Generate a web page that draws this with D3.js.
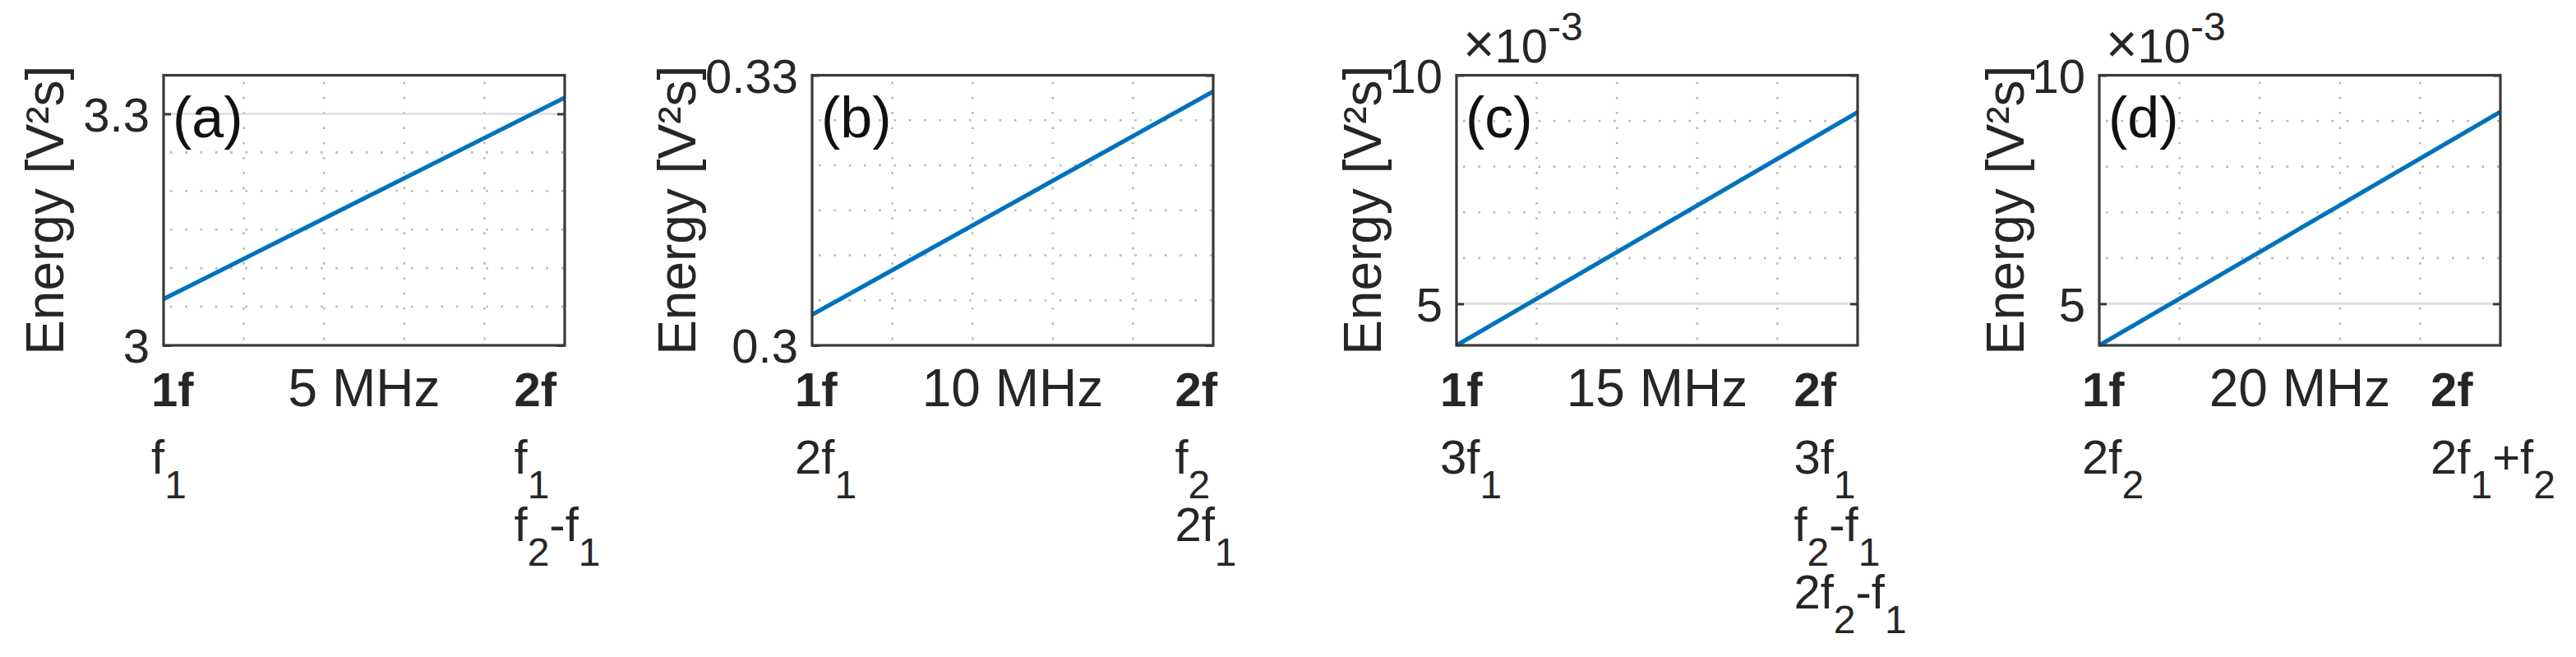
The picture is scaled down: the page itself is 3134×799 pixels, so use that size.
<!DOCTYPE html>
<html>
<head>
<meta charset="utf-8">
<script src="https://cdn.jsdelivr.net/npm/d3@7"></script>
<style>
  html, body { margin: 0; padding: 0; background: #fff; }
  svg { display: block; }
  text { font-family: "Liberation Sans", Arial, Helvetica, sans-serif; }
</style>
</head>
<body>
<svg id="chart" width="3134" height="799"></svg>
<script>
// ---------------- data ----------------
const panelLetters = ["(a)", "(b)", "(c)", "(d)"];
const bandLabels = ["5 MHz", "10 MHz", "15 MHz", "20 MHz"];
const xTickValues = [1, 2];
const xTickHeads = ["1f", "2f"];
const leftTerms = [["f_1"], ["2f_1"], ["3f_1"], ["2f_2"]];
const rightTerms = [["f_1", "f_2-f_1"], ["f_2", "2f_1"], ["3f_1", "f_2-f_1", "2f_2-f_1"], ["2f_1+f_2"]];
const yLimits = [[3.0, 3.35], [0.30, 0.33], [0.00409, 0.010], [0.00409, 0.010]];
const yMajorTicks = [[3.0, 3.3], [0.30, 0.33], [0.005, 0.010], [0.005, 0.010]];
const yMinorStep = [0.05, 0.005, 0.001, 0.001];
const yTickLabels = [["3", "3.3"], ["0.3", "0.33"], ["5", "10"], ["5", "10"]];
const yExponent = [null, null, "-3", "-3"];
const energyA = [3.06, 3.321];
const energyB = [0.3034, 0.3282];
const energyC = [0.00409, 0.00919];
const energyD = [0.00409, 0.0092];
const energies = [energyA, energyB, energyC, energyD];
const yLabelText = "Energy [V\u00B2s]";

// ---------------- layout ----------------
const boxLefts = [199, 988, 1772, 2554];
const boxW = 488, boxTop = 91.5, boxBottom = 420;
const yLabelOffsets = [-122, -142, -92, -92];
const leftBlockShift = [-15, -21, -20, -21];
const tickFont = 58, subFont = 48, subShift = 30, lineGap = 82, firstBaseline = 494;
const txtColor = "#262626";
const fontFam = '"Liberation Sans", Arial, Helvetica, sans-serif';

const svg = d3.select("#chart");
svg.append("rect").attr("width", 3134).attr("height", 799).attr("fill", "#fff");

function richText(sel, str) {
  let i = 0, buf = "", pendingUp = false;
  const flush = () => {
    if (buf.length) {
      const t = sel.append("tspan").text(buf);
      if (pendingUp) { t.attr("dy", -subShift); pendingUp = false; }
      buf = "";
    }
  };
  while (i < str.length) {
    const c = str[i];
    if (c === "_" && i + 1 < str.length) {
      flush();
      sel.append("tspan").style("font-size", subFont + "px").attr("dy", subShift).text(str[i + 1]);
      pendingUp = true;
      i += 2;
    } else { buf += c; i++; }
  }
  flush();
}

panelLetters.forEach((letter, p) => {
  const x0 = boxLefts[p];
  const g = svg.append("g").attr("transform", `translate(${x0},0)`);
  const x = d3.scaleLinear().domain([xTickValues[0], xTickValues[1]]).range([0, boxW]);
  const y = d3.scaleLinear().domain(yLimits[p]).range([boxBottom, boxTop]);

  // minor grid (dotted)
  const vMinor = d3.range(1.2, 1.99, 0.2);
  g.selectAll(".vminor").data(vMinor).enter().append("line")
    .attr("x1", d => x(d)).attr("x2", d => x(d))
    .attr("y1", boxTop).attr("y2", boxBottom)
    .attr("stroke", "#b8b8b8").attr("stroke-width", 2.6)
    .attr("stroke-dasharray", "2.6,15.7").attr("stroke-dashoffset", -8);
  const lo = yLimits[p][0], hi = yLimits[p][1], st = yMinorStep[p];
  const hMinor = d3.range(Math.ceil(lo / st - 1e-6) * st, hi + 1e-9, st)
    .filter(v => !yMajorTicks[p].some(m => Math.abs(m - v) < st * 0.1) && v > lo + st * 0.05 && v < hi - st * 0.05);
  g.selectAll(".hminor").data(hMinor).enter().append("line")
    .attr("x1", 0).attr("x2", boxW)
    .attr("y1", d => y(d)).attr("y2", d => y(d))
    .attr("stroke", "#b8b8b8").attr("stroke-width", 2.6)
    .attr("stroke-dasharray", "2.6,15.7").attr("stroke-dashoffset", -8);

  // major grid (solid light)
  const hMajor = yMajorTicks[p].filter(v => v > lo + 1e-9 && v < hi - 1e-9);
  g.selectAll(".hmajor").data(hMajor).enter().append("line")
    .attr("x1", 0).attr("x2", boxW)
    .attr("y1", d => y(d)).attr("y2", d => y(d))
    .attr("stroke", "#dcdcdc").attr("stroke-width", 2.6);

  // data line
  const pts = xTickValues.map((xv, i) => [xv, energies[p][i]]);
  g.append("path").datum(pts)
    .attr("d", d3.line().x(d => x(d[0])).y(d => y(d[1])))
    .attr("fill", "none").attr("stroke", "#0072BD").attr("stroke-width", 5.2);

  // box
  g.append("rect").attr("x", 0).attr("y", boxTop).attr("width", boxW).attr("height", boxBottom - boxTop)
    .attr("fill", "none").attr("stroke", "#3a3a3a").attr("stroke-width", 3.2);

  // y axis (left) with inward ticks
  const yAxis = d3.axisLeft(y).tickValues(yMajorTicks[p])
    .tickFormat((d, i) => yTickLabels[p][i])
    .tickSizeInner(-9).tickSizeOuter(0).tickPadding(17);
  const ya = g.append("g").call(yAxis);
  ya.select(".domain").remove();
  ya.selectAll("line").attr("stroke", "#3a3a3a").attr("stroke-width", 3);
  ya.selectAll("text").style("font-size", tickFont + "px").attr("fill", txtColor)
    .style("font-family", fontFam).attr("dy", "0.36em");

  // right side ticks
  const yAxisR = d3.axisRight(y).tickValues(yMajorTicks[p]).tickFormat("")
    .tickSizeInner(-9).tickSizeOuter(0);
  const yr = g.append("g").attr("transform", `translate(${boxW},0)`).call(yAxisR);
  yr.select(".domain").remove();
  yr.selectAll("line").attr("stroke", "#3a3a3a").attr("stroke-width", 3);

  // exponent  (x10^-3)
  if (yExponent[p]) {
    const t = g.append("text").attr("x", 8).attr("y", 76)
      .attr("text-anchor", "start")
      .style("font-size", tickFont + "px").style("font-family", fontFam).attr("fill", txtColor);
    t.append("tspan").style("font-size", "66px").text("\u00D7");
    t.append("tspan").text("10");
    t.append("tspan").style("font-size", subFont + "px").attr("dy", -27).text(yExponent[p]);
  }

  // y label
  g.append("text")
    .attr("transform", `translate(${yLabelOffsets[p]},${(boxTop + boxBottom) / 2}) rotate(-90)`)
    .attr("text-anchor", "middle").style("font-size", "64px").attr("fill", txtColor)
    .text(yLabelText);

  // panel letter
  g.append("text").attr("x", 11).attr("y", 167).attr("text-anchor", "start")
    .style("font-size", "70px").attr("fill", "#111").text(letter);

  // x label (band)
  g.append("text").attr("x", boxW / 2).attr("y", firstBaseline).attr("text-anchor", "middle")
    .style("font-size", "64px").attr("fill", txtColor).text(bandLabels[p]);

  // x tick label blocks (left-aligned multi-line)
  const blocks = [[xTickHeads[0]].concat(leftTerms[p]), [xTickHeads[1]].concat(rightTerms[p])];
  blocks.forEach((lines, k) => {
    const bg = g.append("g");
    const texts = lines.map((ln, li) => {
      const t = bg.append("text").attr("y", firstBaseline + li * lineGap)
        .attr("text-anchor", "start")
        .style("font-size", tickFont + "px").attr("fill", txtColor);
      if (li === 0) t.attr("font-weight", "bold").text(ln);
      else richText(t, ln);
      return t;
    });
    const w = d3.max(texts, t => t.node().getComputedTextLength());
    const tx = x(xTickValues[k]);
    const startX = k === 0 ? tx + leftBlockShift[p] : tx - w / 2 - 9;
    texts.forEach(t => t.attr("x", startX));
  });
});
</script>
</body>
</html>
